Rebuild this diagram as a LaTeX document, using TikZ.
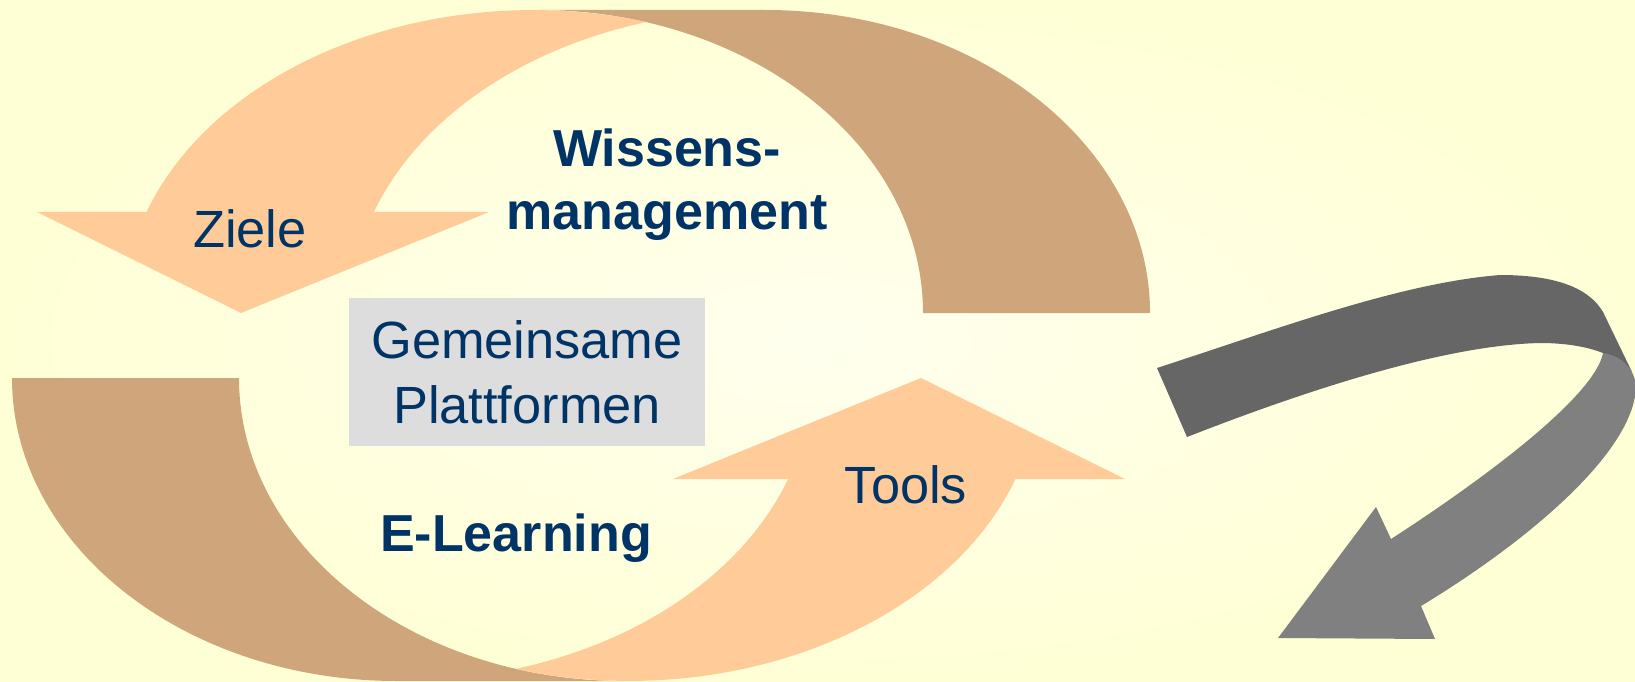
\documentclass[tikz,border=0pt]{standalone}
\usepackage{fontspec}
\setmainfont{Liberation Sans}
\definecolor{peach}{RGB}{255,204,153}
\definecolor{ribbontan}{RGB}{207,165,123}
\definecolor{navy}{RGB}{0,51,102}
\definecolor{backgrey}{RGB}{102,102,102}
\definecolor{frontgrey}{RGB}{128,128,128}
\definecolor{boxgrey}{RGB}{221,221,221}
\definecolor{bgin}{RGB}{255,255,238}
\definecolor{bgout}{RGB}{255,255,214}
\begin{document}
\begin{tikzpicture}[
  txt/.style={text=navy, font=\fontsize{14.9}{18.4}\selectfont, align=center},
  boldtxt/.style={txt, font=\fontsize{14.8}{18}\selectfont\bfseries}
]
\useasboundingbox (0,0) rectangle (16.35,6.81);
\fill[inner color=bgin, outer color=bgout] (0,0) rectangle (16.35,6.81);

% upper loop, the lower one is the same turned round
\foreach \r in {0,180}
{
\begin{scope}[rotate around={\r:(5.81,3.355)}]
\fill[ribbontan] (9.23,3.68) arc[start angle=0, end angle=90, x radius=3.85, y radius=3.03]
  -- (7.65,6.71) arc[start angle=90, end angle=0, x radius=3.85, y radius=3.03] -- cycle;
\fill[peach] (1.465,4.69) arc[start angle=160.5, end angle=73.9, x radius=4.1, y radius=3.03]
  arc[start angle=106.1, end angle=160.5, x radius=4.1, y radius=3.03]
  -- (4.89,4.69) -- (2.41,3.68) -- (0.37,4.69) -- cycle;
\end{scope}
}

\node[txt, fill=boxgrey, minimum width=3.56cm, minimum height=1.48cm] (plattformen) at (5.27,3.09) {Gemeinsame\\Plattformen};
\node[boldtxt, anchor=base] (wissen) at (6.67,4.51) {Wissens-\\management};
\node[boldtxt, anchor=base] (elearning) at (5.16,1.30) {E-Learning};
\node[txt, anchor=base] (ziele) at (2.50,4.33) {Ziele};
\node[txt, anchor=base] (tools) at (9.06,1.78) {Tools};

% grey turning arrow
\fill[backgrey] (11.57,3.13) .. controls (12.80,3.53) and (14.00,3.98) .. (15.00,4.06)
  .. controls (15.60,4.06) and (15.90,3.91) .. (16.03,3.69) -- (16.32,3.09) -- (16.03,3.28)
  .. controls (15.90,3.33) and (15.70,3.38) .. (15.40,3.38)
  .. controls (14.50,3.36) and (13.20,2.96) .. (11.87,2.44) -- cycle;
\fill[frontgrey] (16.03,3.28) .. controls (16.18,3.26) and (16.33,3.16) .. (16.36,2.96)
  .. controls (16.36,2.31) and (15.30,1.41) .. (14.21,0.75)
  -- (14.35,0.42) -- (12.78,0.43) -- (13.76,1.74) -- (13.91,1.42)
  .. controls (14.90,2.06) and (15.95,2.86) .. (16.03,3.28) -- cycle;
\end{tikzpicture}
\end{document}
